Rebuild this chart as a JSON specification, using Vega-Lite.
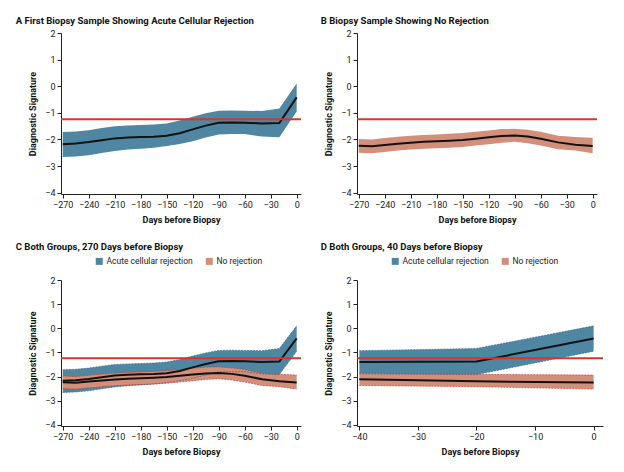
{
  "$schema": "https://vega.github.io/schema/vega-lite/v6.json",
  "padding": {"left": 15, "top": 15, "right": 5, "bottom": 5},
  "background": "white",
  "config": {
    "font": "Roboto",
    "view": {"stroke": null},
    "axis": {"domainColor": "#222", "tickColor": "#222", "labelColor": "#222", "titleColor": "#111", "labelFontSize": 9, "titleFontSize": 9, "titleFontWeight": "bold", "tickSize": 4, "grid": false, "labelPadding": 2, "labelOverlap": false},
    "axisX": {"titlePadding": 6},
    "axisY": {"titlePadding": 7},
    "title": {"fontSize": 9.5, "fontWeight": "bold", "color": "#111", "anchor": "start", "font": "Roboto"},
    "legend": {"labelFontSize": 8.5, "labelColor": "#222", "symbolType": "square", "symbolSize": 49, "symbolStrokeWidth": 0, "direction": "horizontal", "orient": "none", "columnPadding": 12, "labelOffset": 3}
  },
  "datasets": {
    "bands": [
      {"g": "Acute cellular rejection", "x": -270, "mid": -2.18, "lo": -2.66, "hi": -1.72},
      {"g": "Acute cellular rejection", "x": -255, "mid": -2.15, "lo": -2.64, "hi": -1.70},
      {"g": "Acute cellular rejection", "x": -240, "mid": -2.10, "lo": -2.59, "hi": -1.65},
      {"g": "Acute cellular rejection", "x": -225, "mid": -2.03, "lo": -2.51, "hi": -1.57},
      {"g": "Acute cellular rejection", "x": -210, "mid": -1.96, "lo": -2.43, "hi": -1.50},
      {"g": "Acute cellular rejection", "x": -195, "mid": -1.93, "lo": -2.38, "hi": -1.48},
      {"g": "Acute cellular rejection", "x": -180, "mid": -1.91, "lo": -2.35, "hi": -1.46},
      {"g": "Acute cellular rejection", "x": -165, "mid": -1.90, "lo": -2.31, "hi": -1.44},
      {"g": "Acute cellular rejection", "x": -150, "mid": -1.86, "lo": -2.25, "hi": -1.40},
      {"g": "Acute cellular rejection", "x": -135, "mid": -1.77, "lo": -2.17, "hi": -1.29},
      {"g": "Acute cellular rejection", "x": -120, "mid": -1.62, "lo": -2.07, "hi": -1.15},
      {"g": "Acute cellular rejection", "x": -105, "mid": -1.48, "lo": -1.93, "hi": -1.02},
      {"g": "Acute cellular rejection", "x": -90, "mid": -1.37, "lo": -1.81, "hi": -0.92},
      {"g": "Acute cellular rejection", "x": -75, "mid": -1.36, "lo": -1.80, "hi": -0.91},
      {"g": "Acute cellular rejection", "x": -60, "mid": -1.37, "lo": -1.80, "hi": -0.92},
      {"g": "Acute cellular rejection", "x": -40, "mid": -1.40, "lo": -1.89, "hi": -0.93},
      {"g": "Acute cellular rejection", "x": -20, "mid": -1.38, "lo": -1.92, "hi": -0.84},
      {"g": "Acute cellular rejection", "x": 0, "mid": -0.42, "lo": -0.95, "hi": 0.10},
      {"g": "No rejection", "x": -270, "mid": -2.24, "lo": -2.50, "hi": -1.98},
      {"g": "No rejection", "x": -255, "mid": -2.26, "lo": -2.52, "hi": -2.00},
      {"g": "No rejection", "x": -240, "mid": -2.21, "lo": -2.47, "hi": -1.95},
      {"g": "No rejection", "x": -225, "mid": -2.16, "lo": -2.42, "hi": -1.90},
      {"g": "No rejection", "x": -210, "mid": -2.12, "lo": -2.38, "hi": -1.86},
      {"g": "No rejection", "x": -195, "mid": -2.09, "lo": -2.35, "hi": -1.83},
      {"g": "No rejection", "x": -180, "mid": -2.07, "lo": -2.33, "hi": -1.81},
      {"g": "No rejection", "x": -165, "mid": -2.05, "lo": -2.31, "hi": -1.79},
      {"g": "No rejection", "x": -150, "mid": -2.02, "lo": -2.28, "hi": -1.76},
      {"g": "No rejection", "x": -135, "mid": -1.97, "lo": -2.23, "hi": -1.71},
      {"g": "No rejection", "x": -120, "mid": -1.92, "lo": -2.18, "hi": -1.66},
      {"g": "No rejection", "x": -105, "mid": -1.87, "lo": -2.12, "hi": -1.61},
      {"g": "No rejection", "x": -90, "mid": -1.85, "lo": -2.09, "hi": -1.60},
      {"g": "No rejection", "x": -75, "mid": -1.89, "lo": -2.14, "hi": -1.64},
      {"g": "No rejection", "x": -60, "mid": -1.97, "lo": -2.23, "hi": -1.71},
      {"g": "No rejection", "x": -40, "mid": -2.11, "lo": -2.37, "hi": -1.86},
      {"g": "No rejection", "x": -20, "mid": -2.20, "lo": -2.42, "hi": -1.91},
      {"g": "No rejection", "x": 0, "mid": -2.25, "lo": -2.52, "hi": -1.94}
    ],
    "thr": [{"t": -1.24}]
  },
  "resolve": {"scale": {"color": "independent", "stroke": "independent"}, "legend": {"color": "independent"}},
  "vconcat": [
    {
      "resolve": {"scale": {"color": "independent", "stroke": "independent"}, "legend": {"color": "independent"}},
      "hconcat": [
        {
          "title": {"text": "A  First Biopsy Sample Showing Acute Cellular Rejection", "dx": -13, "offset": 4},
          "width": 240, "height": 161,
          "layer": [
            {"data": {"name": "bands"}, "transform": [{"filter": "datum.g === 'Acute cellular rejection'"}],
             "mark": {"type": "area", "color": "#4f87a2"},
             "encoding": {
               "x": {"field": "x", "type": "quantitative", "title": "Days before Biopsy", "scale": {"domain": [-272, 5], "nice": false, "zero": false}, "axis": {"values": [-270, -240, -210, -180, -150, -120, -90, -60, -30, 0]}},
               "y": {"field": "lo", "type": "quantitative", "title": "Diagnostic Signature", "scale": {"domain": [-4.05, 2], "nice": false, "zero": false}, "axis": {"values": [-4, -3, -2, -1, 0, 1, 2]}},
               "y2": {"field": "hi"}}},
            {"data": {"name": "bands"}, "transform": [{"filter": "datum.g === 'Acute cellular rejection'"}],
             "mark": {"type": "line", "color": "#111", "strokeWidth": 2},
             "encoding": {
               "x": {"field": "x", "type": "quantitative", "title": "Days before Biopsy", "axis": {"values": [-270, -240, -210, -180, -150, -120, -90, -60, -30, 0]}},
               "y": {"field": "mid", "type": "quantitative", "title": "Diagnostic Signature", "axis": {"values": [-4, -3, -2, -1, 0, 1, 2]}}}},
            {"data": {"name": "thr"}, "mark": {"type": "rule", "color": "#cc3a2b", "strokeWidth": 2},
             "encoding": {"y": {"field": "t", "type": "quantitative", "title": "Diagnostic Signature", "axis": {"values": [-4, -3, -2, -1, 0, 1, 2]}}}}
          ]
        },
        {
          "title": {"text": "B  Biopsy Sample Showing No Rejection", "dx": -4, "offset": 4},
          "width": 240, "height": 161,
          "layer": [
            {"data": {"name": "bands"}, "transform": [{"filter": "datum.g === 'No rejection'"}],
             "mark": {"type": "area", "color": "#d48f7a"},
             "encoding": {
               "x": {"field": "x", "type": "quantitative", "title": "Days before Biopsy", "scale": {"domain": [-272, 5], "nice": false, "zero": false}, "axis": {"values": [-270, -240, -210, -180, -150, -120, -90, -60, -30, 0]}},
               "y": {"field": "lo", "type": "quantitative", "title": "Diagnostic Signature", "scale": {"domain": [-4.05, 2], "nice": false, "zero": false}, "axis": {"values": [-4, -3, -2, -1, 0, 1, 2]}},
               "y2": {"field": "hi"}}},
            {"data": {"name": "bands"}, "transform": [{"filter": "datum.g === 'No rejection'"}],
             "mark": {"type": "line", "color": "#111", "strokeWidth": 2},
             "encoding": {
               "x": {"field": "x", "type": "quantitative", "title": "Days before Biopsy", "axis": {"values": [-270, -240, -210, -180, -150, -120, -90, -60, -30, 0]}},
               "y": {"field": "mid", "type": "quantitative", "title": "Diagnostic Signature", "axis": {"values": [-4, -3, -2, -1, 0, 1, 2]}}}},
            {"data": {"name": "thr"}, "mark": {"type": "rule", "color": "#cc3a2b", "strokeWidth": 2},
             "encoding": {"y": {"field": "t", "type": "quantitative", "title": "Diagnostic Signature", "axis": {"values": [-4, -3, -2, -1, 0, 1, 2]}}}}
          ]
        }
      ],
      "spacing": 18
    },
    {
      "resolve": {"scale": {"color": "independent", "stroke": "independent"}, "legend": {"color": "independent"}},
      "hconcat": [
        {
          "title": {"text": "C  Both Groups, 270 Days before Biopsy", "dx": -13, "offset": 6},
          "width": 240, "height": 146,
          "layer": [
            {"data": {"name": "bands"},
             "mark": {"type": "area"},
             "encoding": {
               "x": {"field": "x", "type": "quantitative", "title": "Days before Biopsy", "scale": {"domain": [-272, 5], "nice": false, "zero": false}, "axis": {"values": [-270, -240, -210, -180, -150, -120, -90, -60, -30, 0]}},
               "y": {"field": "lo", "type": "quantitative", "title": "Diagnostic Signature", "scale": {"domain": [-4.05, 2], "nice": false, "zero": false}, "axis": {"values": [-4, -3, -2, -1, 0, 1, 2]}},
               "y2": {"field": "hi"},
               "color": {"field": "g", "type": "nominal", "scale": {"domain": ["Acute cellular rejection", "No rejection"], "range": ["#4f87a2", "#d48f7a"]}, "legend": {"title": null, "legendX": 34, "legendY": -23}}}},
            {"data": {"name": "bands"},
             "mark": {"type": "line", "strokeWidth": 0.8, "strokeDash": [2, 1], "opacity": 0.8},
             "encoding": {
               "x": {"field": "x", "type": "quantitative", "title": "Days before Biopsy", "axis": {"values": [-270, -240, -210, -180, -150, -120, -90, -60, -30, 0]}},
               "y": {"field": "lo", "type": "quantitative", "title": "Diagnostic Signature", "axis": {"values": [-4, -3, -2, -1, 0, 1, 2]}},
               "stroke": {"field": "g", "type": "nominal", "scale": {"domain": ["Acute cellular rejection", "No rejection"], "range": ["#2e6590", "#c0392b"]}, "legend": null}}},
            {"data": {"name": "bands"},
             "mark": {"type": "line", "strokeWidth": 0.8, "strokeDash": [2, 1], "opacity": 0.8},
             "encoding": {
               "x": {"field": "x", "type": "quantitative", "title": "Days before Biopsy", "axis": {"values": [-270, -240, -210, -180, -150, -120, -90, -60, -30, 0]}},
               "y": {"field": "hi", "type": "quantitative", "title": "Diagnostic Signature", "axis": {"values": [-4, -3, -2, -1, 0, 1, 2]}},
               "stroke": {"field": "g", "type": "nominal", "legend": null}}},
            {"data": {"name": "bands"},
             "mark": {"type": "line", "color": "#111", "strokeWidth": 2},
             "encoding": {
               "x": {"field": "x", "type": "quantitative", "title": "Days before Biopsy", "axis": {"values": [-270, -240, -210, -180, -150, -120, -90, -60, -30, 0]}},
               "y": {"field": "mid", "type": "quantitative", "title": "Diagnostic Signature", "axis": {"values": [-4, -3, -2, -1, 0, 1, 2]}},
               "detail": {"field": "g"}}},
            {"data": {"name": "thr"}, "mark": {"type": "rule", "color": "#cc3a2b", "strokeWidth": 2},
             "encoding": {"y": {"field": "t", "type": "quantitative", "title": "Diagnostic Signature", "axis": {"values": [-4, -3, -2, -1, 0, 1, 2]}}}}
          ]
        },
        {
          "title": {"text": "D  Both Groups, 40 Days before Biopsy", "dx": -4, "offset": 6},
          "width": 246, "height": 146,
          "layer": [
            {"data": {"name": "bands"}, "transform": [{"filter": "datum.x >= -40"}],
             "mark": {"type": "area"},
             "encoding": {
               "x": {"field": "x", "type": "quantitative", "title": "Days before Biopsy", "scale": {"domain": [-40.4, 1.6], "nice": false, "zero": false}, "axis": {"values": [-40, -30, -20, -10, 0]}},
               "y": {"field": "lo", "type": "quantitative", "title": "Diagnostic Signature", "scale": {"domain": [-4.05, 2], "nice": false, "zero": false}, "axis": {"values": [-4, -3, -2, -1, 0, 1, 2]}},
               "y2": {"field": "hi"},
               "color": {"field": "g", "type": "nominal", "scale": {"domain": ["Acute cellular rejection", "No rejection"], "range": ["#4f87a2", "#d48f7a"]}, "legend": {"title": null, "legendX": 34, "legendY": -23}}}},
            {"data": {"name": "bands"}, "transform": [{"filter": "datum.x >= -40"}],
             "mark": {"type": "line", "strokeWidth": 0.8, "strokeDash": [2, 1], "opacity": 0.8},
             "encoding": {
               "x": {"field": "x", "type": "quantitative", "title": "Days before Biopsy", "axis": {"values": [-40, -30, -20, -10, 0]}},
               "y": {"field": "lo", "type": "quantitative", "title": "Diagnostic Signature", "axis": {"values": [-4, -3, -2, -1, 0, 1, 2]}},
               "stroke": {"field": "g", "type": "nominal", "scale": {"domain": ["Acute cellular rejection", "No rejection"], "range": ["#2e6590", "#c0392b"]}, "legend": null}}},
            {"data": {"name": "bands"}, "transform": [{"filter": "datum.x >= -40"}],
             "mark": {"type": "line", "strokeWidth": 0.8, "strokeDash": [2, 1], "opacity": 0.8},
             "encoding": {
               "x": {"field": "x", "type": "quantitative", "title": "Days before Biopsy", "axis": {"values": [-40, -30, -20, -10, 0]}},
               "y": {"field": "hi", "type": "quantitative", "title": "Diagnostic Signature", "axis": {"values": [-4, -3, -2, -1, 0, 1, 2]}},
               "stroke": {"field": "g", "type": "nominal", "legend": null}}},
            {"data": {"name": "bands"}, "transform": [{"filter": "datum.x >= -40"}],
             "mark": {"type": "line", "color": "#111", "strokeWidth": 2},
             "encoding": {
               "x": {"field": "x", "type": "quantitative", "title": "Days before Biopsy", "axis": {"values": [-40, -30, -20, -10, 0]}},
               "y": {"field": "mid", "type": "quantitative", "title": "Diagnostic Signature", "axis": {"values": [-4, -3, -2, -1, 0, 1, 2]}},
               "detail": {"field": "g"}}},
            {"data": {"name": "thr"}, "mark": {"type": "rule", "color": "#cc3a2b", "strokeWidth": 2},
             "encoding": {"y": {"field": "t", "type": "quantitative", "title": "Diagnostic Signature", "axis": {"values": [-4, -3, -2, -1, 0, 1, 2]}}}}
          ]
        }
      ],
      "spacing": 18
    }
  ],
  "spacing": 17
}
